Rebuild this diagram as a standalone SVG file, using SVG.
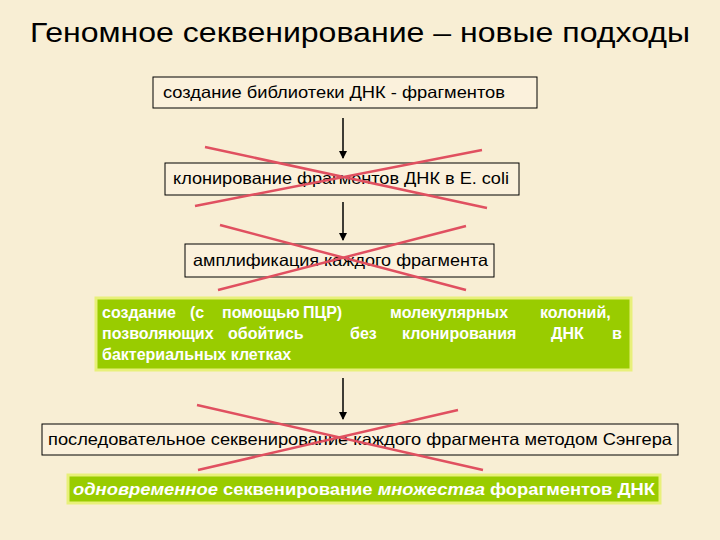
<svg xmlns="http://www.w3.org/2000/svg" width="720" height="540" viewBox="0 0 720 540">
<defs>
<marker id="ah" markerWidth="8" markerHeight="8" refX="7" refY="4" orient="auto" markerUnits="userSpaceOnUse"><path d="M0,0L8,4L0,8z" fill="#000"/></marker>
<style>
.t{font-family:"Liberation Sans",Arial,sans-serif;font-size:16.5px;fill:#000}
.w{font-family:"Liberation Sans",Arial,sans-serif;font-size:16px;font-weight:bold;fill:#fff}
.b{fill:#fbf1dc;stroke:#000;stroke-width:1}
.g{fill:#99cc00;stroke:#e8f07a;stroke-width:3}
.x{stroke:#e05060;stroke-width:2.5;fill:none}
.a{stroke:#000;stroke-width:1.5;marker-end:url(#ah)}
</style>
</defs>
<rect width="720" height="540" fill="#f8eed4"/>
<text x="30" y="42" textLength="660" lengthAdjust="spacingAndGlyphs" font-family="Liberation Sans,Arial,sans-serif" font-size="28" fill="#000">Геномное секвенирование – новые подходы</text>
<g id="n1"><rect class="b" x="153" y="77" width="384" height="31"/><text class="t" x="163" y="98" textLength="342" lengthAdjust="spacingAndGlyphs">создание библиотеки ДНК - фрагментов</text></g>
<g id="n2"><rect class="b" x="165" y="163" width="354" height="32"/><text class="t" x="173" y="184" textLength="336" lengthAdjust="spacingAndGlyphs">клонирование фрагментов ДНК в E. coli</text></g>
<g id="n3"><rect class="b" x="185" y="244" width="309" height="33"/><text class="t" x="193" y="266" textLength="295" lengthAdjust="spacingAndGlyphs">амплификация каждого фрагмента</text></g>
<g id="n4"><rect class="g" x="96" y="298" width="535" height="72"/>
<text class="w" y="318"><tspan x="102">создание</tspan><tspan x="190">(с</tspan><tspan x="222">помощью</tspan><tspan x="303">ПЦР)</tspan><tspan x="390">молекулярных</tspan><tspan x="540">колоний,</tspan></text>
<text class="w" y="339"><tspan x="102">позволяющих</tspan><tspan x="228">обойтись</tspan><tspan x="350">без</tspan><tspan x="402">клонирования</tspan><tspan x="551">ДНК</tspan><tspan x="612">в</tspan></text>
<text class="w" x="102" y="360">бактериальных клетках</text></g>
<g id="n5"><rect class="b" x="42" y="424" width="636" height="31"/><text class="t" x="48" y="445" textLength="624" lengthAdjust="spacingAndGlyphs">последовательное секвенирование каждого фрагмента методом Сэнгера</text></g>
<g id="n6"><rect class="g" x="68" y="475" width="592" height="28"/><text class="w" x="73" y="495" textLength="582" lengthAdjust="spacingAndGlyphs"><tspan font-style="italic">одновременное</tspan> секвенирование <tspan font-style="italic">множества</tspan> форагментов ДНК</text></g>
<g id="connectors">
<line class="a" x1="343" y1="118" x2="343" y2="158"/>
<line class="a" x1="343" y1="202" x2="343" y2="240"/>
<line class="a" x1="343" y1="378" x2="343" y2="419"/>
</g>
<g id="crosses">
<path class="x" d="M205,147L487,208M195,206L482,150"/>
<path class="x" d="M220,225L466,290M218,290L466,226"/>
<path class="x" d="M197,405L483,470M198,470L458,410"/>
</g>
</svg>
